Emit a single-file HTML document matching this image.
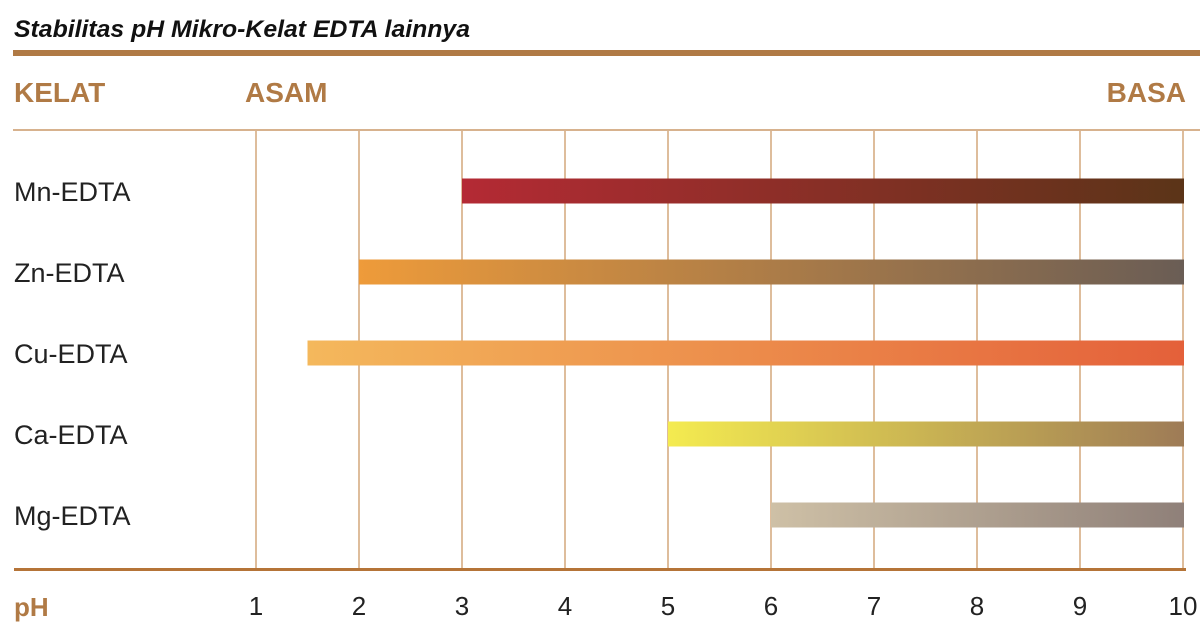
<!DOCTYPE html>
<html><head><meta charset="utf-8">
<style>
html,body{margin:0;padding:0;background:#fff;}
svg{display:block;font-family:"Liberation Sans",Arial,sans-serif;}
</style></head>
<body>
<svg id="chart" width="1200" height="634" viewBox="0 0 1200 634">
  <text x="14" y="37" font-size="24" font-weight="bold" font-style="italic" fill="#111" textLength="456" lengthAdjust="spacingAndGlyphs">Stabilitas pH Mikro-Kelat EDTA lainnya</text>
  <rect x="13" y="50" width="1187" height="6" fill="#b07a45"/>
  <text x="14" y="102" font-size="28" font-weight="bold" fill="#b07a45">KELAT</text>
  <text x="245" y="102" font-size="28" font-weight="bold" fill="#b07a45">ASAM</text>
  <text x="1186" y="102" font-size="28" font-weight="bold" fill="#b07a45" text-anchor="end">BASA</text>
  <rect x="13" y="129" width="1187" height="2" fill="#d7b28e"/>
  <g id="grid"></g>
  <g id="bars"></g>
  <g id="labels"></g>
  <rect x="14" y="568" width="1172" height="3" fill="#b57438"/>
  <text x="14" y="616" font-size="26" font-weight="bold" fill="#b07a45">pH</text>
  <g id="ticks"></g>
</svg>
<script>
const categories = ["Mn-EDTA","Zn-EDTA","Cu-EDTA","Ca-EDTA","Mg-EDTA"];
const startPH = [3, 2, 1.5, 5, 6];
const endPH = [10, 10, 10, 10, 10];
const tickValues = [1,2,3,4,5,6,7,8,9,10];
const gradStart = ["#b42a34","#ee9b3a","#f4b85c","#f4eb50","#cec0a6"];
const gradEnd = ["#5b3418","#6a5d55","#e4603a","#9e7b56","#8f8079"];

const NS = "http://www.w3.org/2000/svg";
function x(v){ return 256 + (v - 1) * 103; }
function yc(i){ return 191 + i * 81; }
const svg = document.getElementById('chart');
const defs = document.createElementNS(NS,'defs');
svg.insertBefore(defs, svg.firstChild);

const grid = document.getElementById('grid');
tickValues.forEach(t => {
  const l = document.createElementNS(NS,'line');
  
  
  l.setAttribute('x1', x(t)); l.setAttribute('x2', x(t));
  l.setAttribute('y1', 131); l.setAttribute('y2', 569);
  l.setAttribute('stroke','#d4a77c'); l.setAttribute('stroke-width','1.5');
  grid.appendChild(l);
  const tx = document.createElementNS(NS,'text');
  
  
  tx.setAttribute('x', x(t)); tx.setAttribute('y', 615);
  tx.setAttribute('font-size','26'); tx.setAttribute('fill','#222');
  tx.setAttribute('text-anchor','middle');
  tx.textContent = t;
  document.getElementById('ticks').appendChild(tx);
});

const bars = document.getElementById('bars');
const labels = document.getElementById('labels');
categories.forEach((c, i) => {
  const g = document.createElementNS(NS,'linearGradient');
  g.setAttribute('id','g' + i);
  const s1 = document.createElementNS(NS,'stop'); s1.setAttribute('offset','0'); s1.setAttribute('stop-color', gradStart[i]);
  const s2 = document.createElementNS(NS,'stop'); s2.setAttribute('offset','1'); s2.setAttribute('stop-color', gradEnd[i]);
  g.appendChild(s1); g.appendChild(s2); defs.appendChild(g);
  const r = document.createElementNS(NS,'rect');
  
  
  r.setAttribute('x', x(startPH[i]));
  r.setAttribute('width', x(endPH[i]) - x(startPH[i]) + 1);
  r.setAttribute('y', yc(i) - 12.5); r.setAttribute('height', 25);
  r.setAttribute('fill','url(#g' + i + ')');
  bars.appendChild(r);
  const t = document.createElementNS(NS,'text');
  
  
  t.setAttribute('x', 14); t.setAttribute('y', yc(i) + 10);
  t.setAttribute('font-size','27'); t.setAttribute('fill','#222');
  t.textContent = c;
  labels.appendChild(t);
});
</script>
</body></html>
